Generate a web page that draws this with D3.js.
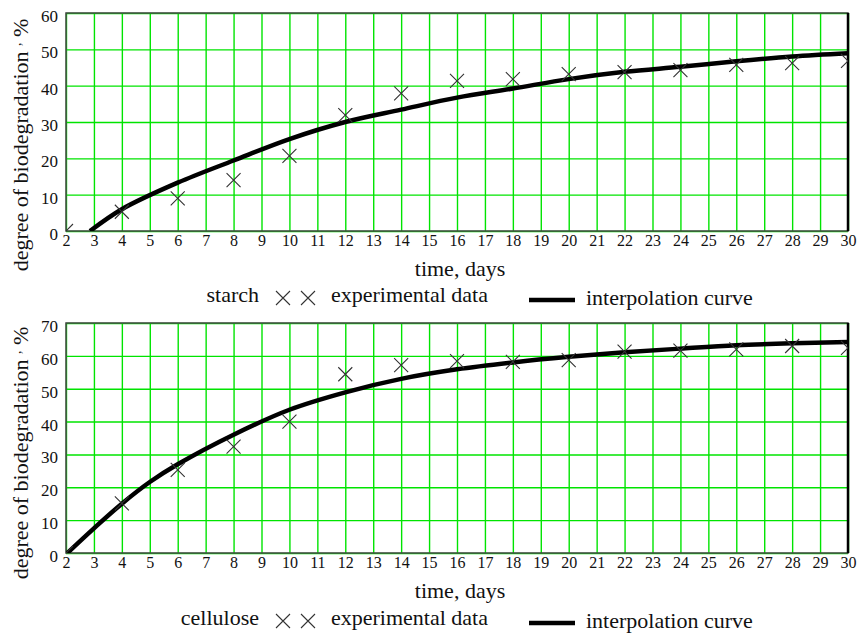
<!DOCTYPE html>
<html>
<head>
<meta charset="utf-8">
<script src="https://cdn.jsdelivr.net/npm/d3@7"></script>
</head>
<body style="margin:0; background:#fff">
<svg width="861" height="637"></svg>
<script>
// experimental days (every second day)
var expDays = [2, 4, 6, 8, 10, 12, 14, 16, 18, 20, 22, 24, 26, 28, 30];
var dayTicks = d3.range(2, 31);

// starch
var starchExp = [0, 5.3, 9.0, 14.0, 20.7, 31.9, 37.9, 41.3, 41.8, 43.2, 43.7, 44.3, 45.7, 46.2, 46.8];
var starchCurveDays = [2.86, 4, 6, 8, 10, 12, 14, 16, 18, 20, 22, 24, 26, 28, 30];
var starchCurve = [0, 6.0, 13.3, 19.4, 25.3, 30.0, 33.4, 36.7, 39.2, 41.8, 43.8, 45.2, 46.7, 48.0, 48.9];
var starchYTicks = [0, 10, 20, 30, 40, 50, 60];

// cellulose
var celluloseExp = [0, 15.1, 25.3, 32.4, 40.0, 54.4, 57.2, 58.4, 58.2, 58.7, 61.3, 61.6, 62.0, 63.0, 62.4];
var celluloseCurveDays = [2.05, 3, 4, 5, 6, 8, 10, 12, 14, 16, 18, 20, 22, 24, 26, 28, 30];
var celluloseCurve = [0, 7.5, 15.0, 21.6, 27.0, 36.0, 43.6, 48.9, 53.0, 55.9, 58.0, 59.7, 61.1, 62.2, 63.2, 63.8, 64.2];
var celluloseYTicks = [0, 10, 20, 30, 40, 50, 60, 70];

var svg = d3.select("svg");
var left = 66, right = 848;

function txt(sel, size) {
    return sel.style("font-family", "'Liberation Serif'").style("font-size", size + "px").attr("fill", "#111");
}

function cross(sel, cx, cy, s) {
    return sel.append("path")
        .attr("d", "M" + (cx - s) + "," + (cy - s) + "L" + (cx + s) + "," + (cy + s) +
            "M" + (cx - s) + "," + (cy + s) + "L" + (cx + s) + "," + (cy - s))
        .attr("stroke", "#333").attr("stroke-width", 1.1).attr("fill", "none");
}

function drawPanel(p) {
    var x = d3.scaleLinear().domain([2, 30]).range([left, right]);
    var y = d3.scaleLinear().domain([0, p.yMax]).range([p.bottom, p.top]);
    var h = p.bottom - p.top;
    var g = svg.append("g");

    // grid
    g.append("g")
        .attr("transform", "translate(0," + p.bottom + ")")
        .call(d3.axisBottom(x).tickValues(dayTicks).tickSize(-h).tickFormat(""))
        .call(function (s) { s.select(".domain").remove(); })
        .selectAll("line").attr("stroke", "#00e400").attr("stroke-width", 1.4);
    g.append("g")
        .attr("transform", "translate(" + left + ",0)")
        .call(d3.axisLeft(y).tickValues(p.yTicks).tickSize(-(right - left)).tickFormat(""))
        .call(function (s) { s.select(".domain").remove(); })
        .selectAll("line").attr("stroke", "#00e400").attr("stroke-width", 1.4);

    // frame
    g.append("rect")
        .attr("x", left).attr("y", p.top)
        .attr("width", right - left).attr("height", h)
        .attr("fill", "none").attr("stroke", "#444").attr("stroke-width", 1.5);
    g.append("line")
        .attr("x1", right).attr("x2", right).attr("y1", p.top).attr("y2", p.bottom)
        .attr("stroke", "#000").attr("stroke-width", 2.5);

    // tick labels
    var xa = g.append("g")
        .attr("transform", "translate(0," + p.bottom + ")")
        .call(d3.axisBottom(x).tickValues(dayTicks).tickSize(0).tickPadding(4));
    xa.attr("font-family", null).select(".domain").remove();
    txt(xa.selectAll("text"), 16);

    var ya = g.append("g")
        .attr("transform", "translate(" + left + ",0)")
        .call(d3.axisLeft(y).tickValues(p.yTicks).tickSize(0).tickPadding(8));
    ya.attr("font-family", null).select(".domain").remove();
    txt(ya.selectAll("text"), 17).attr("dy", "0.5em");

    // clip marks to plot
    var clipId = "clip" + p.top;
    svg.append("clipPath").attr("id", clipId)
        .append("rect").attr("x", left).attr("y", p.top).attr("width", right - left).attr("height", h);
    var plot = g.append("g").attr("clip-path", "url(#" + clipId + ")");

    var line = d3.line()
        .x(function (d) { return x(d[0]); })
        .y(function (d) { return y(d[1]); })
        .curve(d3.curveCatmullRom.alpha(0.5));
    plot.append("path")
        .datum(p.curveDays.map(function (d, i) { return [d, p.curveVals[i]]; }))
        .attr("fill", "none").attr("stroke", "#000").attr("stroke-width", 4.5)
        .attr("d", line);

    expDays.forEach(function (d, i) {
        cross(plot, x(d), y(p.expVals[i]), 7);
    });

    // axis titles
    txt(g.append("text"), 22)
        .attr("x", 460).attr("y", p.bottom + 45)
        .attr("text-anchor", "middle")
        .text("time, days");
    var yl = txt(g.append("text"), 22)
        .attr("transform", "translate(28," + p.yLabelMid + ") rotate(-90)")
        .attr("text-anchor", "middle");
    yl.append("tspan").text("degree of biodegradation ");
    yl.append("tspan").style("font-size", "14px").attr("dy", "-0.5em").text(",");
    yl.append("tspan").attr("dy", "0.32em").text("  %");

    // legend
    var ly = p.legendY;
    txt(g.append("text"), 22).attr("x", 259).attr("y", ly).attr("text-anchor", "end").text(p.name);
    cross(g, 283, ly - 4, 7);
    cross(g, 308, ly - 4, 7);
    txt(g.append("text"), 22).attr("x", 331).attr("y", ly).text("experimental data");
    g.append("line")
        .attr("x1", 529).attr("x2", 575).attr("y1", ly - 2).attr("y2", ly - 2)
        .attr("stroke", "#000").attr("stroke-width", 4.5);
    txt(g.append("text"), 22).attr("x", 586).attr("y", ly + 3).text("interpolation curve");
}

drawPanel({
    top: 13, bottom: 231, yMax: 60, yTicks: starchYTicks,
    expVals: starchExp, curveDays: starchCurveDays, curveVals: starchCurve,
    name: "starch", legendY: 302, yLabelMid: 145
});
drawPanel({
    top: 323, bottom: 553, yMax: 70, yTicks: celluloseYTicks,
    expVals: celluloseExp, curveDays: celluloseCurveDays, curveVals: celluloseCurve,
    name: "cellulose", legendY: 625, yLabelMid: 453
});
</script>
</body>
</html>
